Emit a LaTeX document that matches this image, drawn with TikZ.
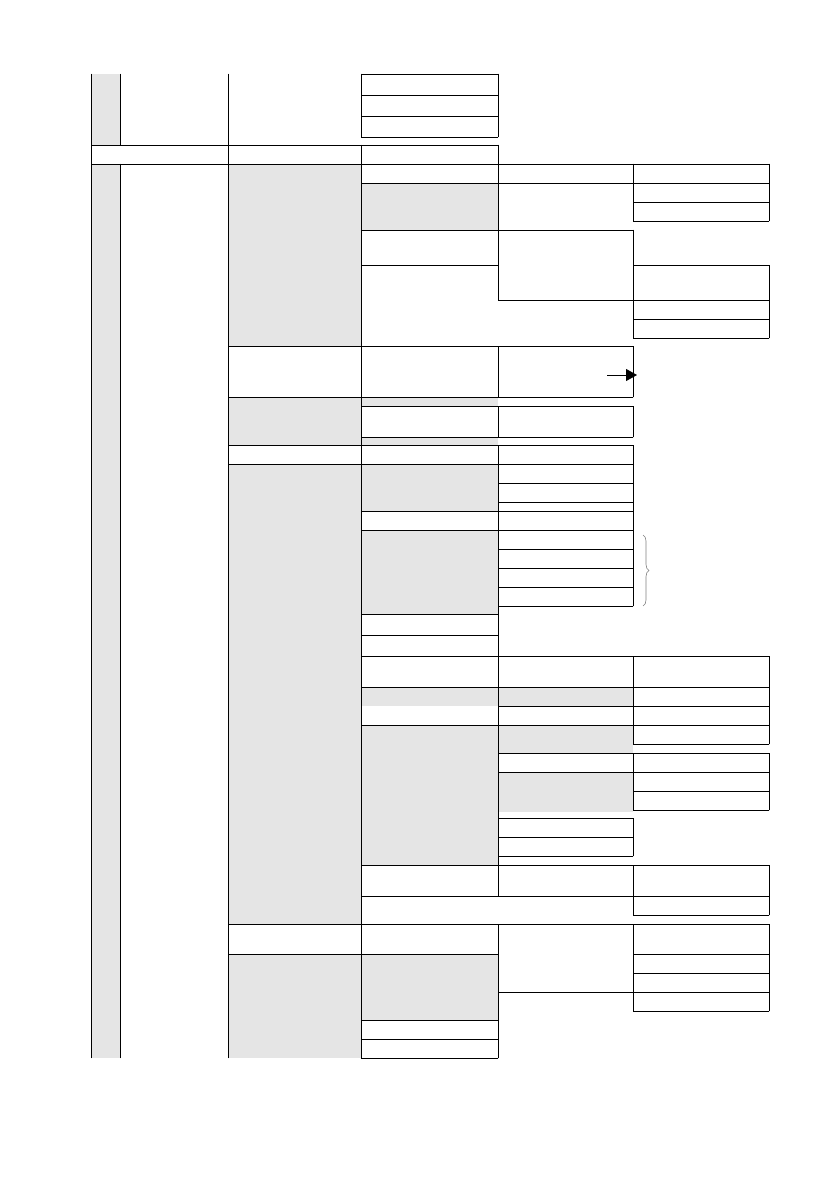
\documentclass[tikz,border=0pt]{standalone}
\usetikzlibrary{arrows.meta,decorations.pathreplacing}
\definecolor{cellgray}{gray}{0.9}
\begin{document}
\begin{tikzpicture}[x=1pt,y=-1pt,
  gridline/.style={line width=0.9pt,black,line cap=rect},
  shade/.style={fill=cellgray,draw=none},
  bracestyle/.style={draw=gray,line width=0.6pt,decorate,decoration={brace,amplitude=6pt}},
  arrowline/.style={line width=0.9pt,-{Triangle[length=11pt,width=12pt]}}]
\useasboundingbox (0,0) rectangle (839,1190);
% gray cells
\foreach \xa/\ya/\xb/\yb in {91/74/120/145, 91/164/120/1058,
  228/164/361/346, 228/397/361/445, 228/464/361/924, 228/954/361/1058,
  361/183/498/230, 361/397/498/406, 361/437/498/445, 361/464/498/511,
  361/530/498/614, 361/687/498/706, 361/725/498/865, 361/954/498/1020,
  498/687/633/706, 498/725/633/753, 498/772/633/812}
  \fill[shade] (\xa,\ya) rectangle (\xb,\yb);
% horizontal rules
\foreach \y/\a/\b in {74/361/498, 95/361/498, 116/361/498, 137/361/498,
  145/91/498, 164/91/769, 183/361/769, 202/633/769, 221/633/769,
  230/361/633, 265/361/498, 265/633/769, 300/498/769, 319/633/769, 338/633/769,
  346/228/633, 397/228/633, 406/361/633, 437/361/633, 445/228/633, 464/228/633,
  483/498/633, 502/498/633, 511/361/633, 530/361/633, 549/498/633, 568/498/633,
  587/498/633, 606/498/633, 614/361/498, 635/361/498, 656/361/769, 687/361/769,
  706/498/769, 725/361/769, 744/633/769, 753/498/769, 772/498/769, 791/633/769,
  810/633/769, 818/498/633, 837/498/633, 856/498/633, 865/361/769, 896/361/769,
  915/633/769, 924/228/769, 954/228/498, 954/633/769, 973/633/769, 992/498/769,
  1011/633/769, 1020/361/498, 1039/361/498, 1058/361/498}
  \draw[gridline] (\a,\y) -- (\b,\y);
% vertical rules
\foreach \x/\a/\b in {91/74/1058, 120/74/145, 120/164/1058, 228/74/1058,
  361/74/137, 361/145/1058,
  498/74/137, 498/145/300, 498/346/397, 498/406/437, 498/445/896, 498/924/1058,
  633/164/221, 633/230/265, 633/265/338, 633/346/397, 633/406/437, 633/445/606,
  633/656/744, 633/753/810, 633/818/856, 633/865/915, 633/924/1011,
  769/164/221, 769/265/338, 769/656/744, 769/753/810, 769/865/915, 769/924/1011}
  \draw[gridline] (\x,\a) -- (\x,\b);
% arrow and brace
\coordinate (arrA) at (607,375);
\coordinate (arrB) at (637,375);
\draw[arrowline] (arrA) -- (arrB);
\coordinate (brA) at (643,535);
\coordinate (brB) at (643,606);
\draw[bracestyle] (brA) -- (brB);
\end{tikzpicture}
\end{document}
